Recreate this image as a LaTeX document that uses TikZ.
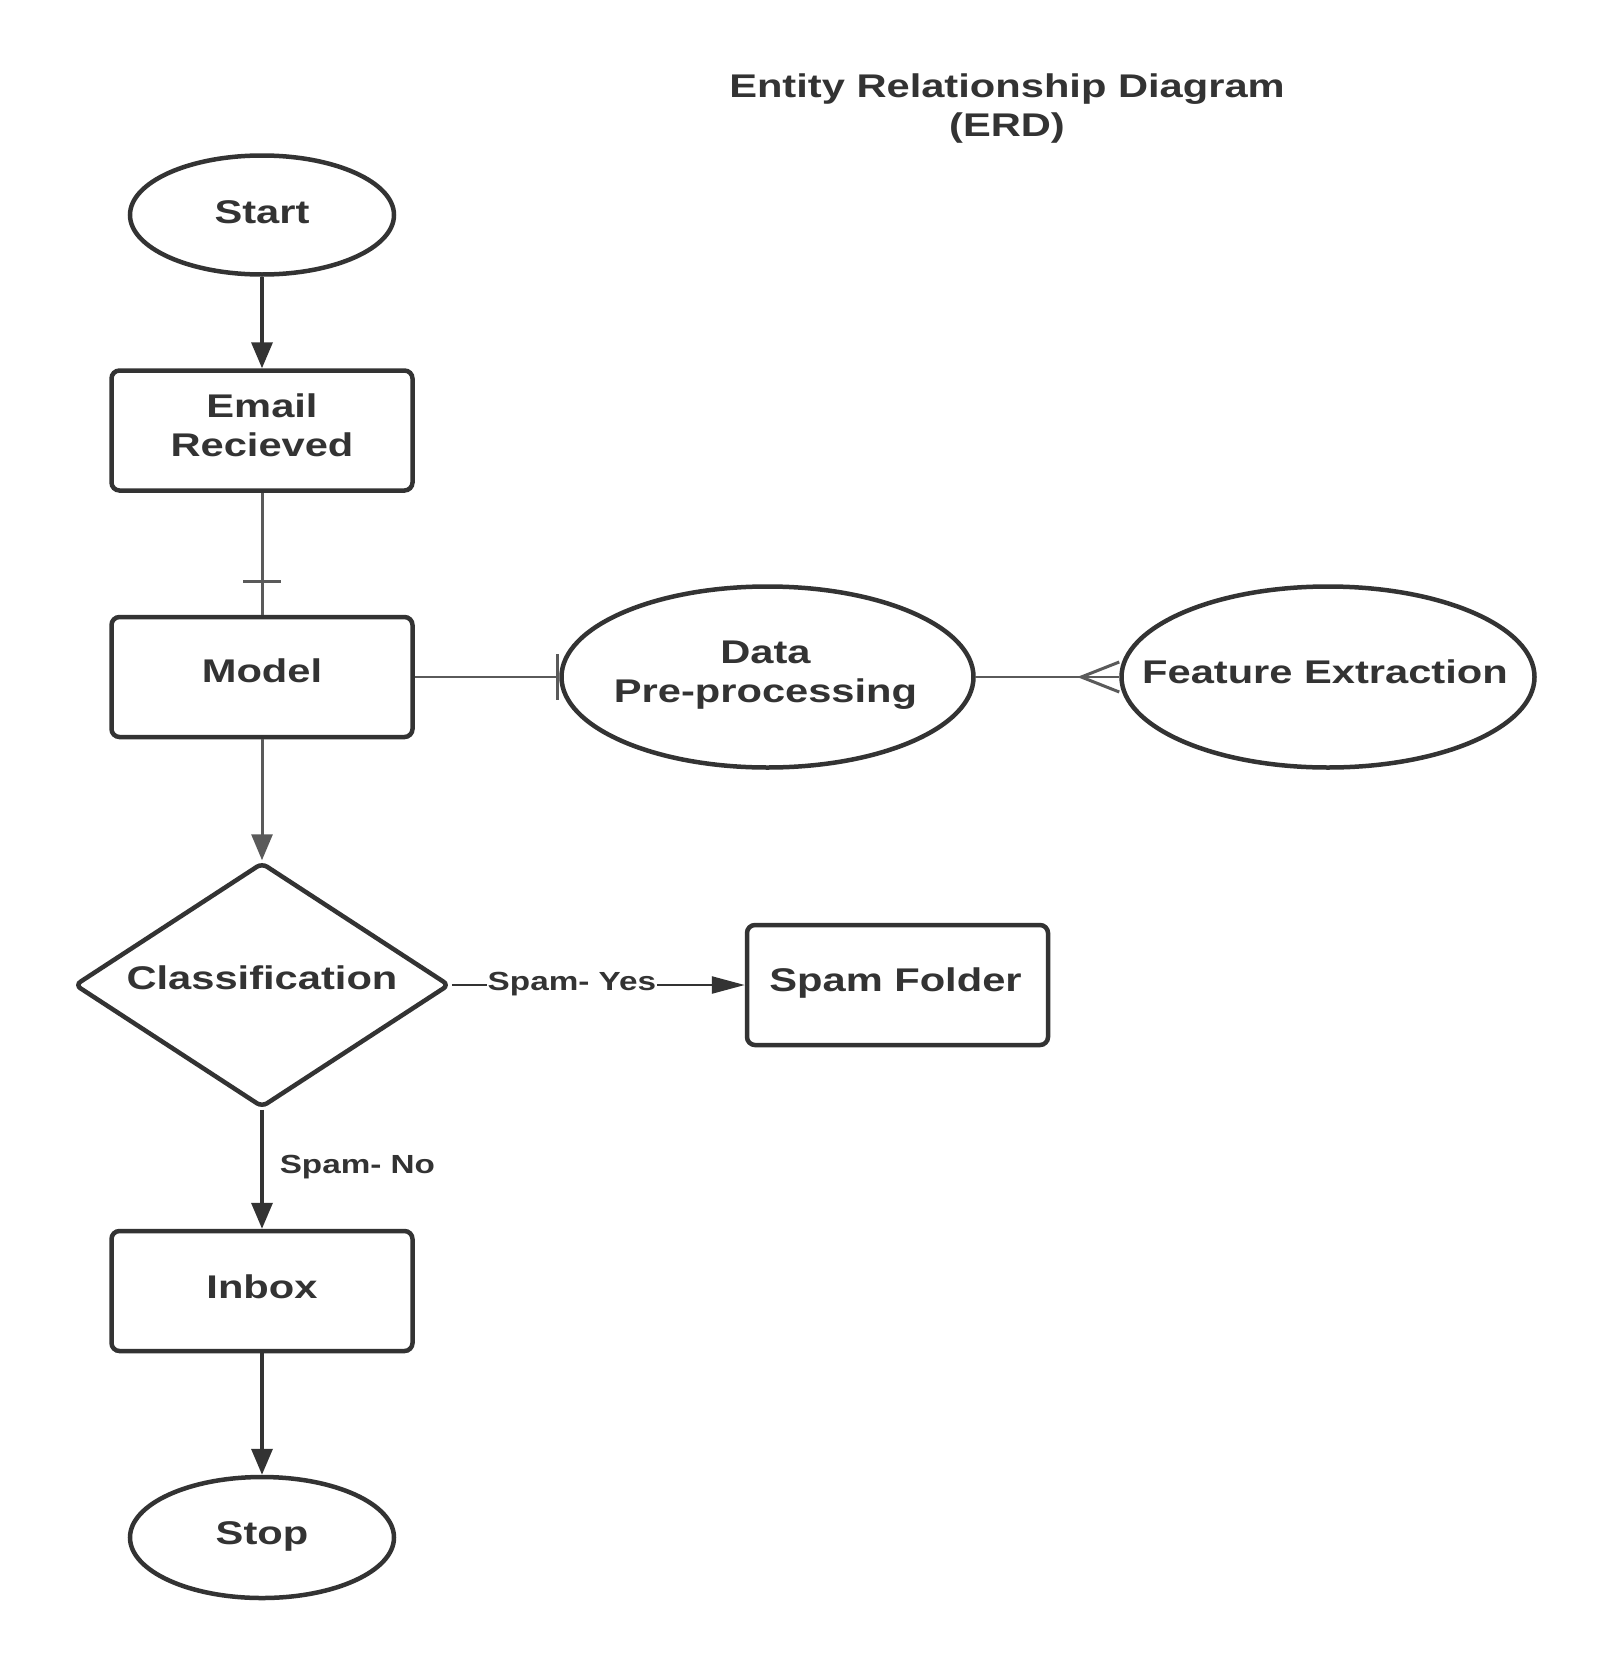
\documentclass[tikz,border=0pt]{standalone}
\usepackage{fontspec}
\setmainfont{Liberation Sans}[FakeStretch=1.27]
\usetikzlibrary{shapes.geometric,arrows.meta,calc}
\definecolor{ink}{HTML}{333333}
\definecolor{erdgray}{HTML}{5A5A5A}
\newcommand\twolines[2]{\vbox{\halign{\hfil##\hfil\cr#1\cr#2\cr}}}
\begin{document}
\begin{tikzpicture}[x=1pt,y=-1pt,
  shp/.style={draw=ink,line width=4.5pt,inner sep=0pt,fill=white},
  boxshp/.style={shp,rectangle,rounded corners=8pt,minimum width=301pt,minimum height=120pt},
  ellshp/.style={shp,ellipse},
  txt/.style={inner sep=0pt,text=ink,font=\fontsize{32.8}{39}\selectfont\bfseries,text depth=0pt},
  one/.style={txt,text height=23.3pt},
  two/.style={txt,text height=62.3pt},
  lbl/.style={inner sep=0pt,text=ink,font=\fontsize{26.2}{31}\selectfont\bfseries,text height=18.6pt,text depth=0pt},
  flow/.style={draw=ink,line width=3.5pt,-{Triangle[length=26pt,width=21pt]}},
  erd/.style={draw=erdgray,line width=3pt},
]
\fill[white] (0,0) rectangle (1612,1662);
\useasboundingbox (0,0) rectangle (1612,1662);

% shapes
\node[ellshp,minimum width=264pt,minimum height=119pt] (start) at (262,215) {};
\node[boxshp] (email) at (262,430.5) {};
\node[boxshp] (model) at (262,677) {};
\node[ellshp,minimum width=412pt,minimum height=181pt] (data) at (767.5,677) {};
\node[ellshp,minimum width=413pt,minimum height=181pt] (feat) at (1328,677) {};
\node[shp,diamond,rounded corners=6pt,minimum width=375pt,minimum height=245pt] (class) at (262,985) {};
\node[boxshp,minimum width=301pt] (spam) at (897.5,985) {};
\node[boxshp] (inbox) at (262,1291) {};
\node[ellshp,minimum width=264pt,minimum height=121pt] (stop) at (262,1537.5) {};

% texts
\node[two] (title) at (1007,105) {\twolines{Entity Relationship Diagram}{(ERD)}};
\node[one] (startt) at ($(start.center)+(0,-3.5)$) {Start};
\node[two] (emailt) at ($(email.center)+(0,-5.5)$) {\twolines{Email}{Recieved}};
\node[one] (modelt) at ($(model.center)+(0,-6)$) {Model};
\node[two] (datat) at ($(data.center)+(-2,-5.3)$) {\twolines{Data}{Pre-processing}};
\node[one] (featt) at ($(feat.center)+(-3,-5.3)$) {Feature Extraction};
\node[one] (classt) at ($(class.center)+(0,-7)$) {Classification};
\node[one] (spamt) at ($(spam.center)+(-2,-5)$) {Spam Folder};
\node[one] (inboxt) at ($(inbox.center)+(0,-4.5)$) {Inbox};
\node[one] (stopt) at ($(stop.center)+(0,-4.5)$) {Stop};

% flow connectors
\draw[flow] (start) -- (email);
\draw[flow,draw=erdgray,line width=3pt] (model) -- (class);
\draw[draw=ink,line width=2.5pt,-{Triangle[length=33pt,width=17pt]}] (class) -- node[lbl,pos=0.41,fill=white,inner xsep=1pt,yshift=4pt] (yes) {Spam- Yes} (spam);
\draw[flow] (class) -- node[lbl,pos=0.46,anchor=west,xshift=16pt] (no) {Spam- No} (inbox);
\draw[flow] (inbox) -- (stop);

% ERD connectors
\draw[erd] (email) -- (model);
\draw[erd] ($(model.north)+(-19,-33)$) -- ($(model.north)+(19,-33)$);
\draw[erd,line width=2.5pt] (model) -- (data);
\draw[erd,line width=3.2pt] ($(data.west)+(-2,-23)$) -- ($(data.west)+(-2,23)$);
\draw[erd,line width=2.5pt] (data) -- (feat);
\coordinate (crow) at ($(feat.west)+(-38,0)$);
\draw[erd] ($(feat.west)+(0,-15)$) -- (crow) -- ($(feat.west)+(0,15)$);
\end{tikzpicture}
\end{document}
